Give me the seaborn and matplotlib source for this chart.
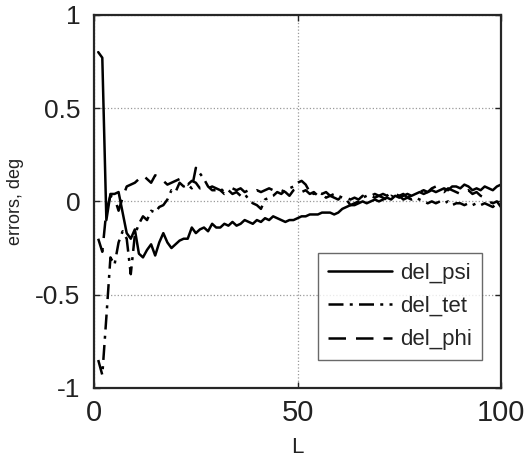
import numpy as np
import pandas as pd
import matplotlib.pyplot as plt
import seaborn as sns

# data, L = 1..100
L = list(range(1, 101))

del_psi = [0.80, 0.77, -0.10, 0.04, 0.04, 0.05, -0.06, -0.17, -0.20, -0.15,
           -0.28, -0.30, -0.26, -0.23, -0.29, -0.22, -0.17, -0.22, -0.25, -0.23,
           -0.21, -0.20, -0.20, -0.14, -0.17, -0.15, -0.14, -0.16, -0.12, -0.14,
           -0.14, -0.12, -0.13, -0.11, -0.13, -0.12, -0.10, -0.11, -0.12, -0.10,
           -0.11, -0.09, -0.10, -0.08, -0.09, -0.10, -0.11, -0.10, -0.10, -0.09,
           -0.08, -0.08, -0.07, -0.07, -0.07, -0.06, -0.06, -0.06, -0.07, -0.06,
           -0.04, -0.03, -0.02, -0.02, -0.01, 0.00, -0.01, 0.00, 0.01, 0.00,
           0.01, 0.02, 0.01, 0.03, 0.02, 0.03, 0.04, 0.03, 0.04, 0.05,
           0.04, 0.05, 0.06, 0.05, 0.06, 0.07, 0.06, 0.08, 0.08, 0.07,
           0.09, 0.08, 0.06, 0.07, 0.06, 0.08, 0.07, 0.06, 0.08, 0.09]

del_tet = [-0.85, -0.93, -0.62, -0.30, -0.34, -0.22, -0.16, -0.20, -0.39, -0.18,
           -0.12, -0.08, -0.10, -0.05, -0.06, -0.03, -0.02, 0.01, 0.06, 0.05,
           0.10, 0.08, 0.09, 0.07, 0.18, 0.15, 0.12, 0.08, 0.06, 0.06,
           0.07, 0.05, 0.06, 0.04, 0.05, 0.03, 0.04, 0.01, -0.01, -0.02,
           -0.04, 0.01, 0.02, 0.03, 0.05, 0.04, 0.06, 0.07, 0.08, 0.10,
           0.11, 0.09, 0.05, 0.04, 0.05, 0.04, 0.05, 0.03, 0.04, 0.03,
           0.02, 0.01, -0.02, -0.01, 0.00, 0.02, 0.03, 0.03, 0.02, 0.03,
           0.02, 0.01, 0.03, 0.02, 0.03, 0.04, 0.02, 0.01, 0.02, 0.01,
           0.00, -0.01, 0.00, -0.01, 0.00, -0.01, 0.00, -0.02, -0.01, -0.01,
           -0.02, -0.01, -0.02, -0.01, -0.02, -0.01, -0.02, -0.03, -0.01, -0.02]

del_phi = [-0.20, -0.27, -0.05, 0.03, 0.02, -0.05, 0.02, 0.08, 0.09, 0.10,
           0.12, 0.14, 0.12, 0.10, 0.14, 0.13, 0.11, 0.09, 0.10, 0.11,
           0.12, 0.10, 0.09, 0.11, 0.10, 0.07, 0.08, 0.07, 0.08, 0.07,
           0.06, 0.04, 0.05, 0.07, 0.06, 0.07, 0.05, 0.06, 0.05, 0.06,
           0.05, 0.06, 0.07, 0.06, 0.05, 0.06, 0.05, 0.03, 0.06, 0.07,
           0.05, 0.06, 0.04, 0.05, 0.03, 0.04, 0.02, 0.03, 0.02, 0.01,
           0.03, 0.02, 0.01, 0.02, 0.01, 0.03, 0.02, 0.03, 0.04, 0.03,
           0.04, 0.03, 0.05, 0.04, 0.03, 0.01, 0.02, 0.03, 0.04, 0.05,
           0.06, 0.05, 0.07, 0.08, 0.06, 0.05, 0.07, 0.06, 0.05, 0.04,
           0.05, 0.06, 0.04, 0.05, 0.03, 0.02, 0.00, -0.01, 0.00, -0.03]

x_ticks = [0, 50, 100]
y_ticks = [-1, -0.5, 0, 0.5, 1]
y_labels = ['-1', '-0.5', '0', '0.5', '1']

sns.set_theme(style='white')
plt.rcParams['font.family'] = ['Liberation Sans', 'DejaVu Sans']

df = pd.DataFrame({'L': L, 'del_psi': del_psi, 'del_tet': del_tet, 'del_phi': del_phi})

fig = plt.figure(figsize=(5.29, 4.63), dpi=100)
ax = fig.add_axes([0.178, 0.162, 0.769, 0.806])

sns.lineplot(data=df, x='L', y='del_psi', ax=ax, color='black', linewidth=1.8,
             linestyle='-', label='del_psi')
sns.lineplot(data=df, x='L', y='del_tet', ax=ax, color='black', linewidth=1.8,
             linestyle=(0, (6, 2.5, 1.2, 2.5)), label='del_tet')
sns.lineplot(data=df, x='L', y='del_phi', ax=ax, color='black', linewidth=1.8,
             linestyle=(0, (7, 4)), label='del_phi')

ax.set_xlim(0, 100)
ax.set_ylim(-1, 1)
ax.set_xticks(x_ticks)
ax.set_yticks(y_ticks)
ax.set_yticklabels(y_labels)
ax.grid(True, color='#999999', linestyle=':', linewidth=0.9)
ax.tick_params(direction='in', length=4, width=1, colors='#222222',
               left=True, bottom=True, top=True, right=True)
ax.tick_params(axis='x', labelsize=21, pad=8)
ax.tick_params(axis='y', labelsize=19, pad=10)
for s in ax.spines.values():
    s.set_color('#262626')
    s.set_linewidth(1.6)

ax.set_xlabel('L', fontsize=16, color='#222222', labelpad=7)
ax.set_ylabel('errors, deg', fontsize=13, color='#222222', labelpad=8)

leg = ax.legend(loc='upper right', bbox_to_anchor=(0.953, 0.362), fontsize=16,
                frameon=True, fancybox=False, handlelength=2.9, borderpad=0.45,
                labelspacing=0.55, handletextpad=0.35, borderaxespad=0)
leg.get_frame().set_edgecolor('#444444')
leg.get_frame().set_linewidth(1.0)

fig.savefig('out.png', dpi=100)
